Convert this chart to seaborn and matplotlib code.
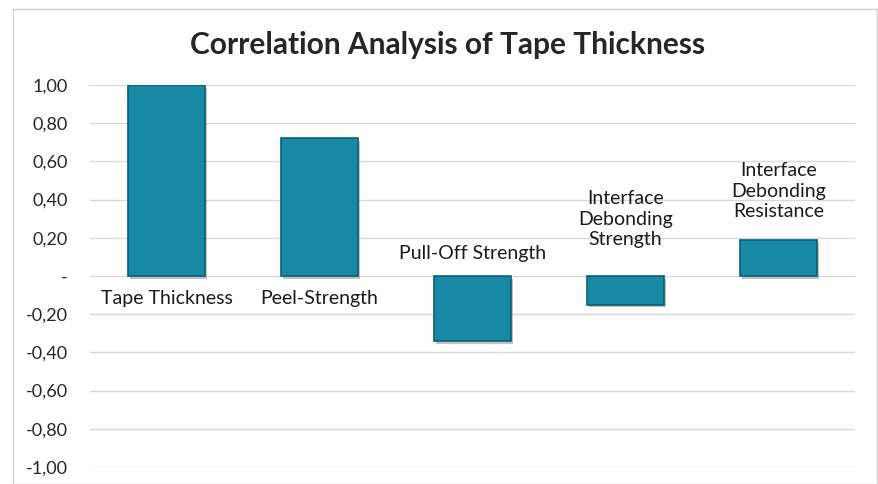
import matplotlib
matplotlib.use("Agg")
import matplotlib.pyplot as plt
import matplotlib.patheffects as pe
from matplotlib.patches import Rectangle
import seaborn as sns
import pandas as pd

categories = ["Tape Thickness", "Peel-Strength", "Pull-Off Strength",
              "Interface Debonding Strength", "Interface Debonding Resistance"]
values = [1.00, 0.72, -0.34, -0.15, 0.19]
label_texts = ["Tape Thickness", "Peel-Strength", "Pull-Off Strength",
               "Interface\nDebonding\nStrength", "Interface\nDebonding\nResistance"]
yticks = [1.0, 0.8, 0.6, 0.4, 0.2, 0.0, -0.2, -0.4, -0.6, -0.8, -1.0]
ytick_labels = ["1,00", "0,80", "0,60", "0,40", "0,20", "-",
                "-0,20", "-0,40", "-0,60", "-0,80", "-1,00"]

sns.set_theme(style="white")
plt.rcParams["font.family"] = ["Lato", "DejaVu Sans"]

df = pd.DataFrame({"cat": categories, "val": values})

fig = plt.figure(figsize=(8.79, 4.84), dpi=100)
ax = fig.add_axes([90 / 879, 1 - 467 / 484, 765 / 879, 382 / 484])

sns.barplot(data=df, x="cat", y="val", color="#1889A4", width=0.5,
            saturation=1, ax=ax, zorder=3)

for p in ax.patches:
    p.set_edgecolor("#0B5F73")
    p.set_linewidth(1.2)
    p.set_path_effects([pe.SimplePatchShadow(offset=(1.5, -2), alpha=0.35,
                                             shadow_rgbFace="#555555"),
                        pe.Normal()])

ax.set_ylim(-1.0, 1.0)
ax.set_xlim(-0.5, len(categories) - 0.5)
ax.set_yticks(yticks)
ax.set_yticklabels(ytick_labels, fontsize=13, color="#262626")
ax.tick_params(axis="y", length=0, pad=16)
ax.set_xticks([])
ax.set_xlabel("")
ax.set_ylabel("")
ax.yaxis.grid(True, color="#d9d9d9", linewidth=1.0, zorder=0)
ax.set_axisbelow(True)
for s in ax.spines.values():
    s.set_visible(False)

# category names beside each bar: (anchor value, vertical offset in points)
anchors = [(0.0, -16.5), (0.0, -16.5), (0.0, 16.5), (0.0, 41), (values[4], 35)]
for i, (t, (base, dy)) in enumerate(zip(label_texts, anchors)):
    ax.annotate(t, xy=(i, base), xytext=(0, dy), textcoords="offset points",
                ha="center", va="center", fontsize=14, color="#1a1a1a",
                linespacing=1.27, zorder=4)

fig.text(448 / 879, 1 - 45 / 484, "Correlation Analysis of Tape Thickness",
         ha="center", va="center", fontsize=21.5, fontweight="bold",
         color="#262626")

fig.patches.append(Rectangle((13 / 879, 0), 864 / 879, 1 - 9 / 484,
                             transform=fig.transFigure, fill=False,
                             edgecolor="#d0d0d0", linewidth=1.0))

fig.savefig("out.png", dpi=100)
